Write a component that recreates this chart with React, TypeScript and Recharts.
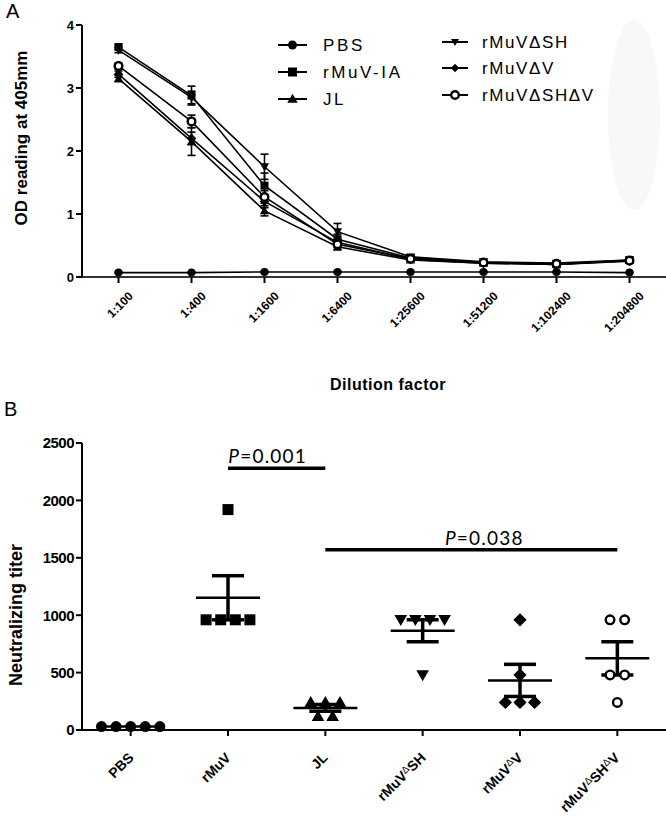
import React from 'react';
import { LineChart, Line, XAxis, YAxis, ErrorBar, ScatterChart, Scatter, ReferenceLine } from 'recharts';

// ---------- Panel A data ----------
const dilutions = ['1:100', '1:400', '1:1600', '1:6400', '1:25600', '1:51200', '1:102400', '1:204800'];
const pbsOD = [0.07, 0.07, 0.08, 0.08, 0.08, 0.08, 0.08, 0.07];
const pbsErr = [0.01, 0.01, 0.01, 0.01, 0.01, 0.01, 0.01, 0.01];
const iaOD = [3.65, 2.88, 1.45, 0.6, 0.3, 0.23, 0.2, 0.27];
const iaErr = [0.04, 0.15, 0.2, 0.08, 0.03, 0.02, 0.02, 0.03];
const jlOD = [3.15, 2.15, 1.05, 0.48, 0.27, 0.22, 0.2, 0.26];
const jlErr = [0.05, 0.22, 0.08, 0.05, 0.02, 0.02, 0.02, 0.02];
const dshOD = [3.6, 2.85, 1.75, 0.72, 0.32, 0.24, 0.22, 0.27];
const dshErr = [0.04, 0.1, 0.2, 0.13, 0.03, 0.02, 0.02, 0.02];
const dvOD = [3.22, 2.2, 1.2, 0.55, 0.28, 0.22, 0.2, 0.25];
const dvErr = [0.05, 0.1, 0.1, 0.05, 0.02, 0.02, 0.02, 0.02];
const dshdvOD = [3.35, 2.47, 1.27, 0.52, 0.29, 0.23, 0.21, 0.26];
const dshdvErr = [0.05, 0.1, 0.1, 0.05, 0.02, 0.02, 0.02, 0.02];
const yTicksA = [0, 1, 2, 3, 4];

// ---------- Panel B data ----------
const groups = ['PBS', 'rMuV', 'JL', 'rMuVΔSH', 'rMuVΔV', 'rMuVΔSHΔV'];
const pbsTiter = [30, 30, 30, 30, 30];
const rmuvTiter = [1920, 960, 960, 960, 960];
const jlTiter = [240, 240, 240, 120, 120];
const dshTiter = [960, 960, 960, 960, 480];
const dvTiter = [960, 480, 240, 240, 240];
const dshdvTiter = [960, 960, 480, 480, 240];
const yTicksB = [0, 500, 1000, 1500, 2000, 2500];
const comparisons = [
  { from: 1, to: 2, level: 2280, p: '0.001', dx: -9 },
  { from: 2, to: 5, level: 1570, p: '0.038', dx: 13 },
];

const odSeries = [
  { key: 'pbs', name: 'PBS', vals: pbsOD, err: pbsErr, kind: 'circle' },
  { key: 'ia', name: 'rMuV-IA', vals: iaOD, err: iaErr, kind: 'square' },
  { key: 'jl', name: 'JL', vals: jlOD, err: jlErr, kind: 'up' },
  { key: 'dsh', name: 'rMuVΔSH', vals: dshOD, err: dshErr, kind: 'down' },
  { key: 'dv', name: 'rMuVΔV', vals: dvOD, err: dvErr, kind: 'diamond' },
  { key: 'dshdv', name: 'rMuVΔSHΔV', vals: dshdvOD, err: dshdvErr, kind: 'open' },
];

const odRows = dilutions.map((d, i) => {
  const row: any = { dilution: d };
  odSeries.forEach((s) => {
    row[s.key] = s.vals[i];
    row[s.key + 'Err'] = s.err[i];
  });
  return row;
});

const titerSeries = [
  { vals: pbsTiter, kind: 'circle' },
  { vals: rmuvTiter, kind: 'square' },
  { vals: jlTiter, kind: 'up' },
  { vals: dshTiter, kind: 'down' },
  { vals: dvTiter, kind: 'diamond' },
  { vals: dshdvTiter, kind: 'open' },
];

const STEP = 0.15;
function spread(vals: number[], gi: number) {
  const counts: Record<number, number> = {};
  vals.forEach((v) => (counts[v] = (counts[v] || 0) + 1));
  const seen: Record<number, number> = {};
  return vals.map((v) => {
    const idx = seen[v] || 0;
    seen[v] = idx + 1;
    const n = counts[v];
    return { x: gi + (idx - (n - 1) / 2) * STEP, y: v };
  });
}
const meanOf = (a: number[]) => a.reduce((s, v) => s + v, 0) / a.length;
const semOf = (a: number[]) => {
  const m = meanOf(a);
  const sd = Math.sqrt(a.reduce((s, v) => s + (v - m) * (v - m), 0) / (a.length - 1));
  return sd / Math.sqrt(a.length);
};
const meanRows = titerSeries.map((s, i) => ({ x: i, y: meanOf(s.vals), sem: semOf(s.vals) }));

// ---------- layout ----------
const CHART_W = 666;
const PLOT_L = 82;
const PLOT_W = CHART_W - PLOT_L;
const A_TOP = 25;
const A_H = 400;
const A_XAXIS_H = 123;
const A_BASE = A_H - A_XAXIS_H; // y of axis line in panel A
const B_OFF = 400;
const B_H = 433;
const B_TOP = 43;
const B_XAXIS_H = 103;
const B_BASE = B_OFF + B_H - B_XAXIS_H;

// ---------- shapes ----------
function Marker({ kind, cx, cy, s }: any) {
  const h = s / 2;
  switch (kind) {
    case 'circle':
      return <circle cx={cx} cy={cy} r={h} fill="#000" />;
    case 'square':
      return <rect x={cx - h} y={cy - h} width={s} height={s} fill="#000" />;
    case 'up':
      return <polygon points={`${cx},${cy - h * 1.15} ${cx + h * 1.15},${cy + h * 0.85} ${cx - h * 1.15},${cy + h * 0.85}`} fill="#000" />;
    case 'down':
      return <polygon points={`${cx},${cy + h * 1.15} ${cx + h * 1.15},${cy - h * 0.85} ${cx - h * 1.15},${cy - h * 0.85}`} fill="#000" />;
    case 'diamond':
      return <polygon points={`${cx},${cy - h * 1.2} ${cx + h * 1.2},${cy} ${cx},${cy + h * 1.2} ${cx - h * 1.2},${cy}`} fill="#000" />;
    case 'open':
    default:
      return <circle cx={cx} cy={cy} r={h - 1.2} fill="#fff" stroke="#000" strokeWidth={2.4} />;
  }
}

const FONT = '"Liberation Sans", Arial, sans-serif';

// Rotated HTML label; anchor = right-middle of the text
function RotLabel({ ax, ay, fontSize, children }: any) {
  return (
    <div
      style={{
        position: 'absolute',
        left: ax - 200,
        top: ay - 12,
        width: 200,
        height: 24,
        lineHeight: '24px',
        textAlign: 'right',
        whiteSpace: 'nowrap',
        fontSize,
        fontWeight: 'bold',
        fontFamily: FONT,
        color: '#000',
        transformOrigin: '100% 50%',
        transform: 'rotate(-45deg)',
      }}
    >
      {children}
    </div>
  );
}

const NoTick = () => <g />;

const PLabel = ({ viewBox, p, dx }: any) => {
  const vb = viewBox || { x: 0, y: 0, width: 0 };
  return (
    <text x={vb.x + vb.width / 2 + dx} y={vb.y - 5} textAnchor="middle" fontSize={19} fontFamily='Lato, "Open Sans", sans-serif' letterSpacing={1.2} fill="#000">
      <tspan fontStyle="italic">P</tspan>={p}
    </text>
  );
};

const MeanShape = ({ cx, cy }: any) => (
  <line x1={cx - 32} x2={cx + 32} y1={cy} y2={cy} stroke="#000" strokeWidth={2.5} />
);

const legendLeft = [odSeries[0], odSeries[1], odSeries[2]];
const legendRight = [odSeries[3], odSeries[4], odSeries[5]];

function LegendA() {
  const rowsL = [45, 72, 99];
  const rowsR = [42, 68, 95];
  return (
    <svg width={666} height={130} style={{ position: 'absolute', left: 0, top: 0 }}>
      {legendLeft.map((s, i) => (
        <g key={s.key}>
          <line x1={278} x2={307} y1={rowsL[i]} y2={rowsL[i]} stroke="#000" strokeWidth={2} />
          <Marker kind={s.kind} cx={292.5} cy={rowsL[i]} s={9} />
          <text x={323} y={rowsL[i] + 6} fontSize={17} letterSpacing={2.6} fontFamily={FONT} fill="#000">{s.name}</text>
        </g>
      ))}
      {legendRight.map((s, i) => (
        <g key={s.key}>
          <line x1={442} x2={468} y1={rowsR[i]} y2={rowsR[i]} stroke="#000" strokeWidth={2} />
          <Marker kind={s.kind} cx={455} cy={rowsR[i]} s={s.kind === 'open' ? 10 : 7} />
          <text x={482} y={rowsR[i] + 6} fontSize={17} letterSpacing={1.6} fontFamily={FONT} fill="#000">{s.name}</text>
        </g>
      ))}
    </svg>
  );
}

const abs = (left: number, top: number, extra: any = {}) => ({ position: 'absolute' as const, left, top, ...extra });

function groupLabel(label: string) {
  const parts = label.split(/(Δ)/).filter((p) => p !== '');
  return parts.map((p, i) =>
    p === 'Δ' ? (
      <span key={i} style={{ fontSize: 10, fontWeight: 'normal', position: 'relative', top: -4 }}>Δ</span>
    ) : (
      <span key={i}>{p}</span>
    )
  );
}

export default function App() {
  const aBand = PLOT_W / dilutions.length;
  const bBand = PLOT_W / groups.length;
  return (
    <div style={{ position: 'absolute', left: 0, top: 0, width: 666, height: 833, background: '#fff', overflow: 'hidden', fontFamily: FONT }}>
      {/* faint scan artefacts */}
      <div style={abs(608, 20, { width: 52, height: 190, borderRadius: '50%', background: '#f8f8f8' })} />

      {/* Panel A */}
      <div style={abs(0, 0)}>
        <LineChart width={CHART_W} height={A_H} data={odRows} margin={{ top: A_TOP, right: 0, left: 0, bottom: 0 }}>
          <XAxis
            dataKey="dilution"
            type="category"
            padding={{ left: aBand / 2, right: aBand / 2 }}
            height={A_XAXIS_H}
            interval={0}
            tick={NoTick}
            tickSize={6}
            axisLine={{ stroke: '#333', strokeWidth: 2 }}
            tickLine={{ stroke: '#000', strokeWidth: 2 }}
          />
          <YAxis
            type="number"
            domain={[0, 4]}
            ticks={yTicksA}
            width={PLOT_L}
            tickSize={6}
            tickMargin={2}
            interval={0}
            tick={{ fontSize: 13, fontWeight: 'bold', fill: '#000', fontFamily: FONT }}
            axisLine={{ stroke: '#000', strokeWidth: 2 }}
            tickLine={{ stroke: '#000', strokeWidth: 2 }}
          />
          {odSeries.map((s) => (
            <Line
              key={s.key}
              dataKey={s.key}
              name={s.name}
              type="linear"
              stroke="#000"
              strokeWidth={1.6}
              isAnimationActive={false}
              dot={(p: any) => (
                <g key={`${s.key}-${p.index}`}>
                  <Marker kind={s.kind} cx={p.cx} cy={p.cy} s={s.kind === 'open' ? 10 : 8} />
                </g>
              )}
              activeDot={false}
            >
              <ErrorBar dataKey={s.key + 'Err'} width={4} stroke="#000" strokeWidth={1.6} direction="y" />
            </Line>
          ))}
        </LineChart>
      </div>
      {dilutions.map((d, i) => (
        <RotLabel key={d} ax={PLOT_L + aBand * (i + 0.5) + 12} ay={A_BASE + 17} fontSize={12}>{d}</RotLabel>
      ))}
      <LegendA />
      <div style={abs(6, 0, { fontSize: 20, lineHeight: '22px', fontFamily: FONT })}>A</div>
      <div style={abs(22, 138, { transform: 'translate(-50%, -50%) rotate(-90deg)', whiteSpace: 'nowrap', fontSize: 17, fontWeight: 'bold' })}>
        OD reading at 405mm
      </div>
      <div style={abs(388, 385, { transform: 'translate(-50%, -50%)', whiteSpace: 'nowrap', fontSize: 16, fontWeight: 'bold', letterSpacing: 0.5 })}>
        Dilution factor
      </div>

      {/* Panel B */}
      <div style={abs(0, B_OFF)}>
        <ScatterChart width={CHART_W} height={B_H} margin={{ top: B_TOP, right: 0, left: 0, bottom: 0 }}>
          <XAxis
            type="number"
            dataKey="x"
            domain={[-0.5, groups.length - 0.5]}
            ticks={groups.map((_, i) => i)}
            interval={0}
            allowDataOverflow
            height={B_XAXIS_H}
            tick={NoTick}
            tickSize={6}
            axisLine={{ stroke: '#000', strokeWidth: 2 }}
            tickLine={{ stroke: '#000', strokeWidth: 2 }}
          />
          <YAxis
            type="number"
            dataKey="y"
            domain={[0, 2500]}
            ticks={yTicksB}
            interval={0}
            width={PLOT_L}
            tickSize={6}
            tickMargin={2}
            tick={{ fontSize: 15, fontWeight: 'bold', fill: '#000', fontFamily: FONT, letterSpacing: -0.5 }}
            axisLine={{ stroke: '#000', strokeWidth: 2 }}
            tickLine={{ stroke: '#000', strokeWidth: 2 }}
          />
          {titerSeries.map((s, gi) => (
            <Scatter
              key={gi}
              data={spread(s.vals, gi)}
              isAnimationActive={false}
              shape={(p: any) => <Marker kind={s.kind} cx={p.cx} cy={p.cy} s={11} />}
            />
          ))}
          <Scatter data={meanRows} isAnimationActive={false} shape={(p: any) => <MeanShape cx={p.cx} cy={p.cy} />}>
            <ErrorBar dataKey="sem" direction="y" width={16} stroke="#000" strokeWidth={3.5} />
          </Scatter>
          {comparisons.map((c, i) => (
            <ReferenceLine
              key={i}
              segment={[{ x: c.from, y: c.level }, { x: c.to, y: c.level }]}
              stroke="#000"
              strokeWidth={3.5}
              label={<PLabel p={c.p} dx={c.dx} />}
            />
          ))}
        </ScatterChart>
      </div>
      {groups.map((g, i) => (
        <RotLabel key={g} ax={PLOT_L + bBand * (i + 0.5)} ay={B_BASE + 25} fontSize={14}>{groupLabel(g)}</RotLabel>
      ))}
      <div style={abs(4, 398, { fontSize: 20, lineHeight: '22px', fontFamily: FONT })}>B</div>
      <div style={abs(16, 615, { transform: 'translate(-50%, -50%) rotate(-90deg)', whiteSpace: 'nowrap', fontSize: 18, fontWeight: 'bold' })}>
        Neutralizing titer
      </div>
    </div>
  );
}
